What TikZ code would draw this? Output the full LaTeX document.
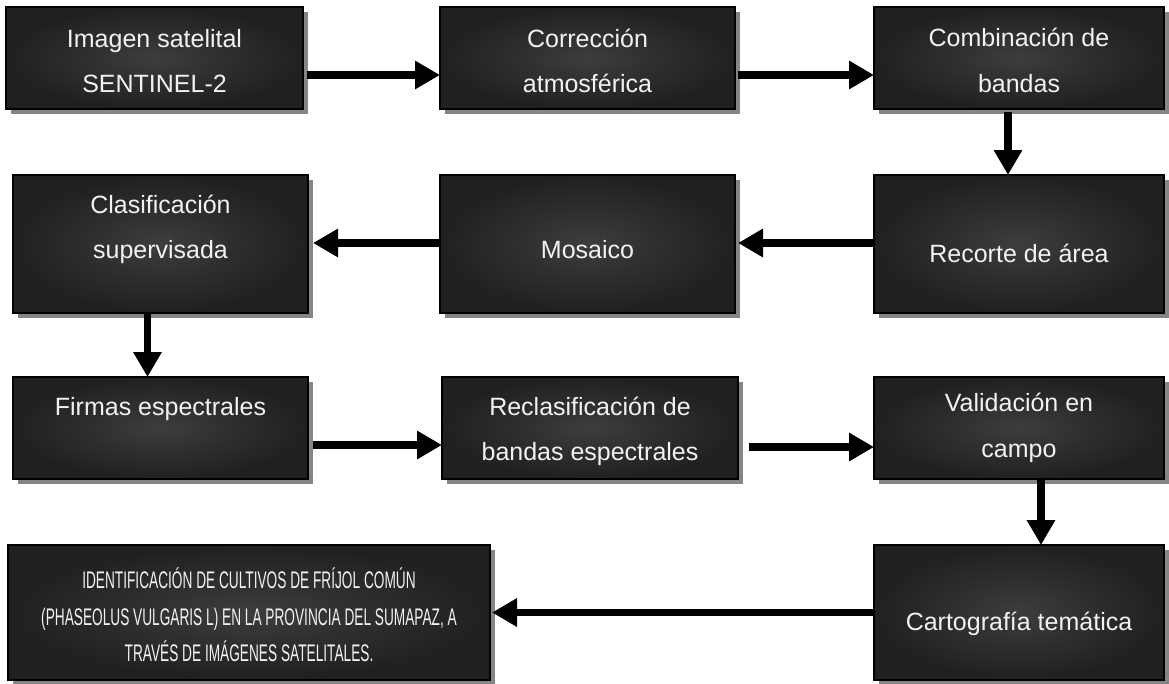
\documentclass[tikz,border=0pt]{standalone}
\usepackage{fontspec}
\setmainfont{Liberation Sans}
\newfontfamily\narrowfont[FakeStretch=0.57]{Liberation Sans}
\usetikzlibrary{arrows.meta,shadows}
\definecolor{boxin}{HTML}{3E3C3C}
\definecolor{boxout}{HTML}{202020}
\definecolor{shadowgray}{HTML}{858585}
\definecolor{txtwhite}{HTML}{F2F2F2}
\tikzset{
  procbox/.style={draw=black, line width=2.5pt, inner color=boxin, outer color=boxout,
    inner sep=0pt, outer sep=0pt,
    drop shadow={shadow xshift=5pt, shadow yshift=-5pt, fill=shadowgray, opacity=1}},
  rowA/.style={procbox, minimum height=102pt},
  rowB/.style={procbox, minimum height=138pt},
  rowD/.style={procbox, minimum height=135pt},
  txt/.style={anchor=base, text=txtwhite, inner sep=0pt, font=\fontsize{25}{30}\selectfont},
  bigtxt/.style={anchor=base, text=txtwhite, inner sep=0pt, font=\narrowfont\fontsize{24}{28}\selectfont},
  flow/.style={line width=7.5pt, -{Triangle[length=25pt,width=27pt]}}
}
\begin{document}
\begin{tikzpicture}[x=1pt,y=1pt]
\useasboundingbox (0,0) rectangle (1169,-683);
% row 1
\node[rowA, minimum width=297pt] (b1) at (154.5,-58) {};
\node[rowA, minimum width=295pt] (b2) at (587.5,-58) {};
\node[rowA, minimum width=290pt] (b3) at (1019,-58) {};
% row 2
\node[rowB, minimum width=295pt] (b4) at (160.5,-244) {};
\node[rowB, minimum width=295pt] (b5) at (587.5,-244) {};
\node[rowB, minimum width=290pt] (b6) at (1019,-244) {};
% row 3
\node[rowA, minimum width=295pt] (b7) at (160.5,-428) {};
\node[rowA, minimum width=296pt] (b8) at (590,-428) {};
\node[rowA, minimum width=290pt] (b9) at (1019,-428) {};
% row 4
\node[rowD, minimum width=482pt] (b10) at (249,-612.5) {};
\node[rowD, minimum width=290pt] (b11) at (1019,-612.5) {};
% texts
\node[txt] (t1a) at (154.5,-47) {Imagen satelital};
\node[txt] (t1b) at (154.5,-92) {SENTINEL-2};
\node[txt] (t2a) at (587.5,-47) {Corrección};
\node[txt] (t2b) at (587.5,-92) {atmosférica};
\node[txt] (t3a) at (1019,-46) {Combinación de};
\node[txt] (t3b) at (1019,-92) {bandas};
\node[txt] (t4a) at (160.5,-213) {Clasificación};
\node[txt] (t4b) at (160.5,-258) {supervisada};
\node[txt] (t5) at (587.5,-258) {Mosaico};
\node[txt] (t6) at (1019,-262) {Recorte de área};
\node[txt] (t7) at (160.5,-415) {Firmas espectrales};
\node[txt] (t8a) at (590,-415) {Reclasificación de};
\node[txt] (t8b) at (590,-460) {bandas espectrales};
\node[txt] (t9a) at (1019,-411) {Validación en};
\node[txt] (t9b) at (1019,-457) {campo};
\node[txt] (t11) at (1019,-630) {Cartografía temática};
\node[bigtxt] (t10a) at (249,-588) {IDENTIFICACIÓN DE CULTIVOS DE FRÍJOL COMÚN};
\node[bigtxt] (t10b) at (249,-625) {(PHASEOLUS VULGARIS L) EN LA PROVINCIA DEL SUMAPAZ, A};
\node[bigtxt] (t10c) at (249,-661) {TRAVÉS DE IMÁGENES SATELITALES.};
% connectors
\draw[flow] ([xshift=4pt,yshift=-17pt]b1.east) -- ([yshift=-17pt]b2.west);
\draw[flow] ([xshift=3pt,yshift=-17pt]b2.east) -- ([yshift=-17pt]b3.west);
\draw[flow] ([xshift=-11pt,yshift=-3pt]b3.south) -- ([xshift=-11pt]b6.north);
\draw[flow] ([yshift=1pt]b6.west) -- ([xshift=3pt,yshift=1pt]b5.east);
\draw[flow] ([yshift=1pt]b5.west) -- ([xshift=5pt,yshift=1pt]b4.east);
\draw[flow] ([xshift=-13pt]b4.south) -- ([xshift=-13pt]b7.north);
\draw[flow] ([xshift=5pt,yshift=-17pt]b7.east) -- ([yshift=-17pt]b8.west);
\draw[flow] ([xshift=11pt,yshift=-19pt]b8.east) -- ([yshift=-19pt]b9.west);
\draw[flow] ([xshift=22pt]b9.south) -- ([xshift=22pt]b11.north);
\draw[flow] (b11.west) -- ([xshift=2pt]b10.east);
\end{tikzpicture}
\end{document}
